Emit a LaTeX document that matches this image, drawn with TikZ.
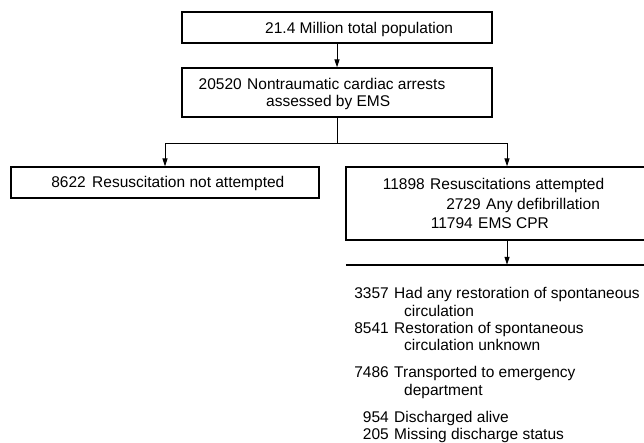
\documentclass[tikz,border=0pt]{standalone}
\usepackage{fontspec}
\setmainfont{Liberation Sans}
\usetikzlibrary{arrows.meta}
\tikzset{
  box/.style={draw, line width=1.3pt, inner sep=0pt, rectangle},
  txt/.style={inner sep=0pt, font=\fontsize{15.5}{18}\selectfont},
  num/.style={txt, anchor=base east},
  lab/.style={txt, anchor=base west},
  conn/.style={line width=1pt},
  rule/.style={line width=1.3pt},
  arr/.style={conn, -{Triangle[length=8pt,width=5pt]}}
}
\begin{document}
\begin{tikzpicture}[x=1pt,y=-1pt]
\useasboundingbox (0,0) rectangle (644,442);
\clip (0,0) rectangle (644,442);
% boxes
\node[box, minimum width=310pt, minimum height=31pt] (top) at (337,27.5) {};
\node[box, minimum width=310pt, minimum height=49pt] (ems) at (337,92.5) {};
\node[box, minimum width=308pt, minimum height=31pt] (notatt) at (165,182.5) {};
\node[box, minimum width=322pt, minimum height=73pt] (att) at (507,203.5) {};
\node[inner sep=0pt, minimum width=322pt, minimum height=0pt] (low) at (507,265) {};
\draw[rule] (low.west) -- (low.east);
% connectors
\coordinate (split) at (337,143);
\draw[arr] (top) -- (ems);
\draw[conn] (ems.south) -- (split);
\draw[arr] (split) -| (notatt.north);
\draw[arr] (split) -| (att.north);
\draw[arr] (att.south) -- (low.north);
% texts
\node[lab] (t1) at (265,33) {21.4 Million total population};
\node[num] (n2) at (242,89) {20520};
\node[lab] (t2) at (247,89) {Nontraumatic cardiac arrests};
\node[lab] (t2b) at (266,106) {assessed by EMS};
\node[num] (n3) at (86,187) {8622};
\node[lab] (t3) at (92,187) {Resuscitation not attempted};
\node[num] (n4) at (425,189) {11898};
\node[lab] (t4) at (430,189) {Resuscitations attempted};
\node[num] (n5) at (481,209) {2729};
\node[lab] (t5) at (486,209) {Any defibrillation};
\node[num] (n6) at (473,228) {11794};
\node[lab] (t6) at (478,228) {EMS CPR};
\node[num] (n7) at (389,298) {3357};
\node[lab] (t7) at (394,298) {Had any restoration of spontaneous};
\node[lab] (t7b) at (404,316) {circulation};
\node[num] (n8) at (389,333) {8541};
\node[lab] (t8) at (394,333) {Restoration of spontaneous};
\node[lab] (t8b) at (404,350) {circulation unknown};
\node[num] (n9) at (389,377) {7486};
\node[lab] (t9) at (394,377) {Transported to emergency};
\node[lab] (t9b) at (404,395) {department};
\node[num] (n10) at (389,422) {954};
\node[lab] (t10) at (394,422) {Discharged alive};
\node[num] (n11) at (389,439) {205};
\node[lab] (t11) at (394,439) {Missing discharge status};
\end{tikzpicture}
\end{document}
